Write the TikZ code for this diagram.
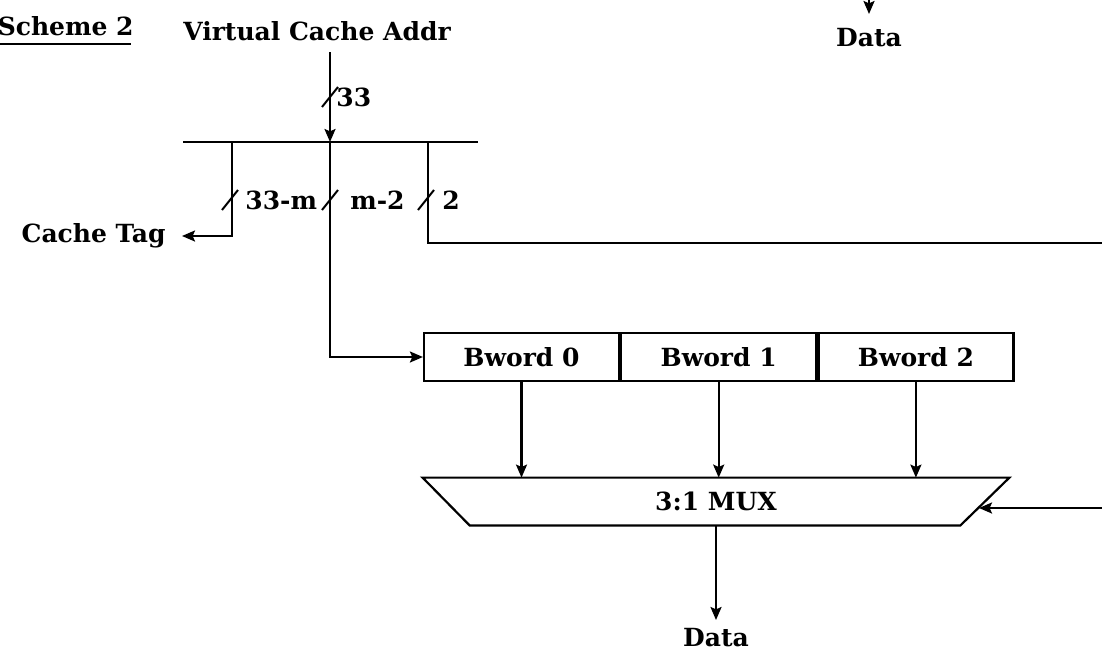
\documentclass[tikz,border=0pt]{standalone}
\usepackage{fontspec}
\setmainfont{DejaVu Serif}
\usetikzlibrary{arrows.meta}
\begin{document}
\begin{tikzpicture}[x=0.5pt,y=-0.5pt,
  wire/.style={line width=1.1pt},
  arr/.style={wire,-{Stealth[length=6.5pt,width=5.5pt,inset=1.2pt]}},
  txt/.style={font=\fontsize{12.5}{15}\selectfont\bfseries},
  lbl/.style={txt, inner sep=0pt},
  bword/.style={txt, draw, line width=1.1pt, minimum width=97.5pt, minimum height=24pt,
    inner sep=0pt},
  slashmark/.style={line width=1pt}]
\useasboundingbox (0,0) rectangle (1102,659);

% headings
\node[lbl, anchor=base east] (scheme) at (134,35) {Scheme 2};
\draw[line width=1pt] (0,44) -- (131,44);
\node[lbl, anchor=base] (vaddr) at (317,40) {Virtual Cache Addr};

% address bus and its three fields
\coordinate (vin) at (330,52);
\coordinate (busL) at (183,142);
\coordinate (busR) at (478,142);
\coordinate (bl) at (232,142);
\coordinate (bm) at (330,142);
\coordinate (br) at (428,142);
\draw[wire] (busL) -- (busR);
\draw[arr] (vin) -- (bm);

\node[lbl, anchor=east, inner xsep=8pt] (tag) at (182,236) {Cache Tag};
\draw[arr] (bl) |- (tag.east);

\coordinate (rout) at (1102,243);
\draw[wire] (br) |- (rout);

% bus width marks
\coordinate (s33) at (330,97);
\coordinate (stag) at (230,200);
\coordinate (sidx) at (330,200);
\coordinate (ssel) at (426,200);
\foreach \n in {s33, stag, sidx, ssel}
  \draw[slashmark] ([shift={(-4pt,-5pt)}]\n) -- ([shift={(4pt,5pt)}]\n);
\node[lbl, anchor=west] (w33) at (336,97) {33};
\node[lbl, anchor=west] (wtag) at (245,200) {33-m};
\node[lbl, anchor=west] (widx) at (350,200) {m-2};
\node[lbl, anchor=west] (wsel) at (442,200) {2};

% block words
\node[bword] (b0) at (521.5,357) {Bword 0};
\node[bword, anchor=west] (b1) at (b0.east) {Bword 1};
\node[bword, anchor=west] (b2) at (b1.east) {Bword 2};
\draw[arr] (bm) |- (b0.west);

% multiplexer
\node[txt, minimum width=293pt, minimum height=23.5pt, inner sep=0pt] (mux) at (716,501.5) {3:1 MUX};
\draw[line width=1.1pt, line join=miter]
  (mux.north west) -- (mux.north east) -- ([xshift=-24.5pt]mux.south east)
  -- ([xshift=23.5pt]mux.south west) -- cycle;
\foreach \b in {b0,b1,b2}
  \draw[arr] (\b.south) -- (\b.south |- mux.north);

\coordinate (rin) at (1102,508);
\coordinate (muxr) at (979,508);
\draw[arr] (rin) -- (muxr);

% outputs
\node[lbl, anchor=north] (dout) at (716,628) {Data};
\draw[arr] (mux.south) -- ([yshift=4pt]dout.north);

\coordinate (dtopin) at (869,-2);
\node[lbl, anchor=north] (dtop) at (869,28) {Data};
\draw[arr] (dtopin) -- ([yshift=7pt]dtop.north);
\end{tikzpicture}
\end{document}
